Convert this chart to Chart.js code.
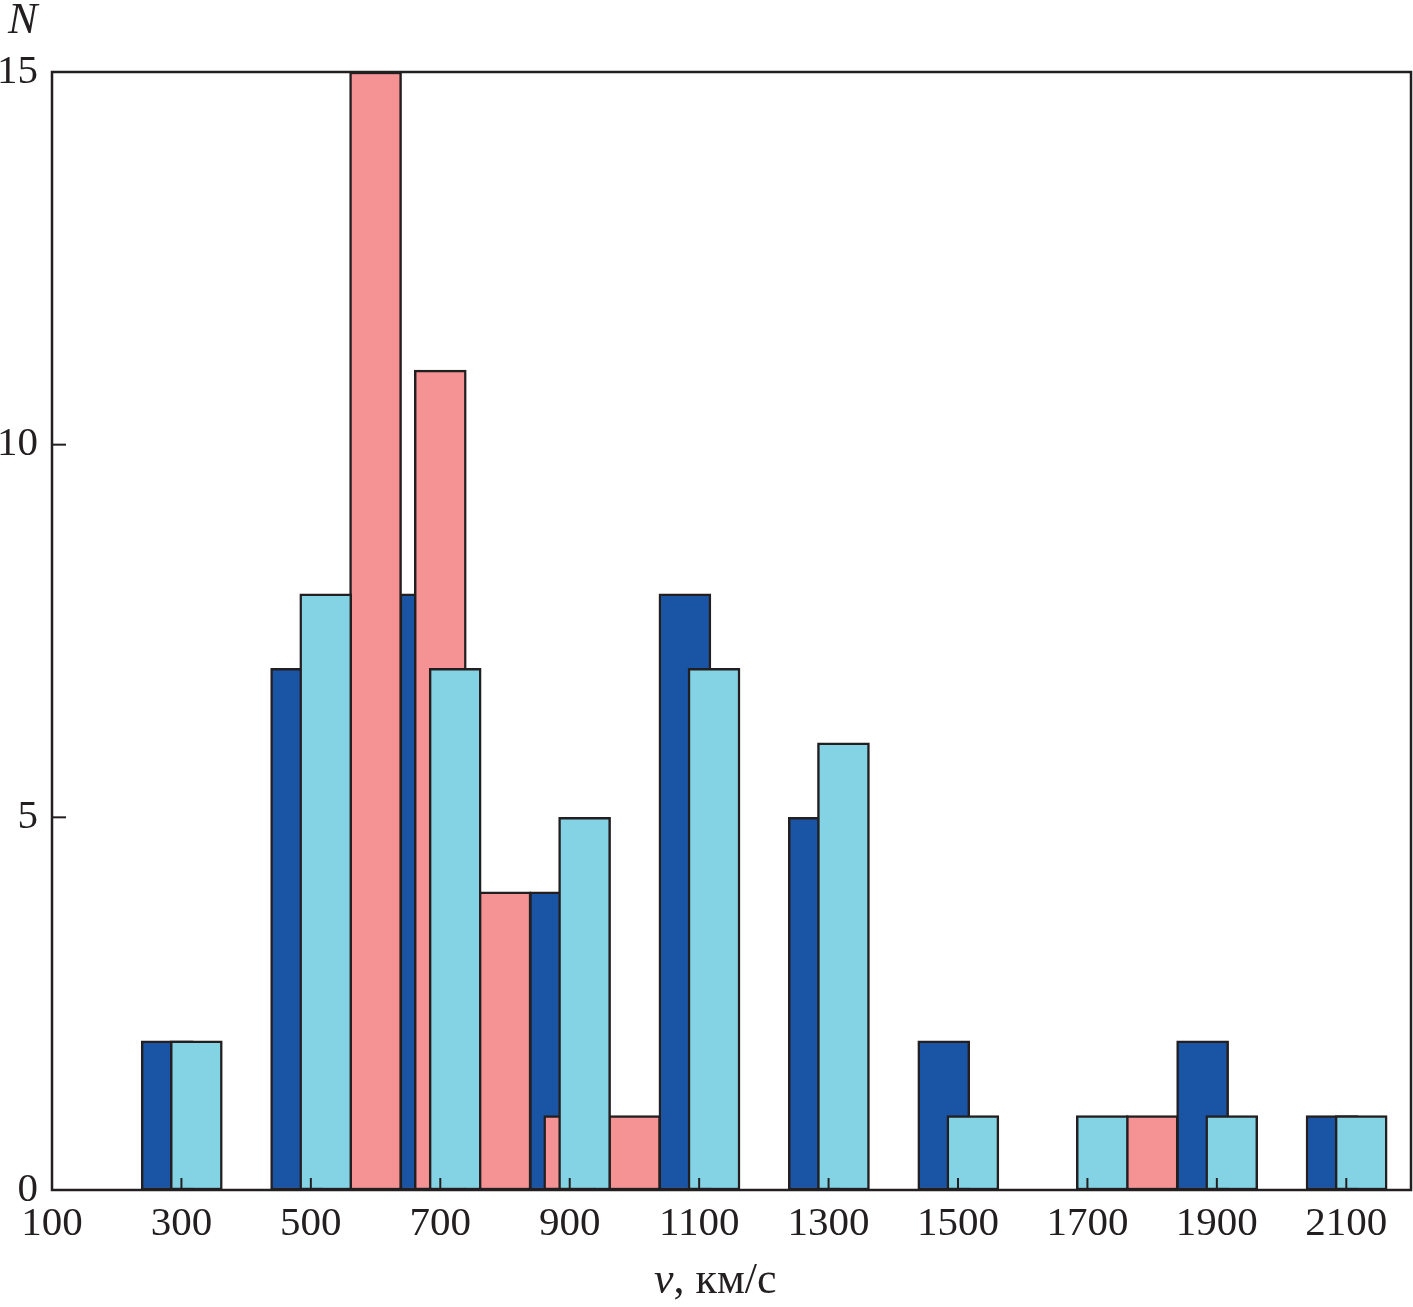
<!DOCTYPE html>
<html>
<head>
<meta charset="utf-8">
<script src="https://cdn.jsdelivr.net/npm/chart.js@4/dist/chart.umd.min.js"></script>
<style>
  html, body { margin: 0; padding: 0; background: #fff; }
  #wrap { width: 1413px; height: 1307px; }
</style>
</head>
<body>
<div id="wrap"><canvas id="hist"></canvas></div>
<script>
// bin centres (km/s) and counts for the three samples
const darkBins = [300, 500, 700, 900, 1100, 1300, 1500, 1900, 2100];
const darkCounts = [2, 7, 8, 4, 8, 5, 2, 2, 1];

const lightBins = [300, 500, 700, 900, 1100, 1300, 1500, 1700, 1900, 2100];
const lightCounts = [2, 8, 7, 5, 7, 6, 1, 1, 1, 1];

const pinkBins = [600, 700, 800, 900, 1000, 1800];
const pinkCounts = [15, 11, 4, 1, 1, 1];

const xTicks = [100, 300, 500, 700, 900, 1100, 1300, 1500, 1700, 1900, 2100];
const yTicks = [0, 5, 10, 15];

const INK = "#231f20";
const FONT = "Liberation Serif";
const DARK_SHIFT = -22;
const LIGHT_SHIFT = 23;

function toPoints(bins, counts, shift) {
  return bins.map((b, i) => ({ x: b + shift, y: counts[i] }));
}

// axes box, inward ticks and the two titles
const frame = {
  id: "frame",
  afterDatasetsDraw(chart) {
    const { ctx, chartArea: a, scales } = chart;
    ctx.save();
    ctx.strokeStyle = INK;
    ctx.lineWidth = 2;
    xTicks.forEach(t => {
      const px = scales.x.getPixelForValue(t);
      ctx.beginPath();
      ctx.moveTo(px, a.bottom);
      ctx.lineTo(px, a.bottom - 12);
      ctx.stroke();
    });
    yTicks.forEach(t => {
      const py = scales.y.getPixelForValue(t);
      ctx.beginPath();
      ctx.moveTo(a.left, py);
      ctx.lineTo(a.left + 14, py);
      ctx.stroke();
    });
    ctx.lineWidth = 2.5;
    ctx.strokeRect(a.left, a.top, a.right - a.left, a.bottom - a.top);

    ctx.fillStyle = INK;
    ctx.textBaseline = "alphabetic";
    ctx.font = "italic 44px '" + FONT + "'";
    ctx.textAlign = "left";
    ctx.fillText("N", 8, 33);

    // x title: italic v + upright units
    const rest = ", км/с";
    ctx.font = "italic 44px '" + FONT + "'";
    const wv = ctx.measureText("v").width;
    const x0 = 654;
    ctx.fillText("v", x0, 1293);
    ctx.font = "44px '" + FONT + "'";
    ctx.fillText(rest, x0 + wv, 1293);
    ctx.restore();
  }
};

const barStyle = {
  barThickness: 52,
  borderWidth: 2.5,
  borderColor: INK,
  borderSkipped: false,
  grouped: false
};

new Chart(document.getElementById("hist"), {
  type: "bar",
  data: {
    datasets: [
      { ...barStyle, data: toPoints(darkBins, darkCounts, DARK_SHIFT), backgroundColor: "#1a55a5", order: 3 },
      { ...barStyle, data: toPoints(pinkBins, pinkCounts, 0), backgroundColor: "#f59294", order: 2 },
      { ...barStyle, data: toPoints(lightBins, lightCounts, LIGHT_SHIFT), backgroundColor: "#83d3e5", order: 1 }
    ]
  },
  options: {
    responsive: true,
    maintainAspectRatio: false,
    animation: false,
    layout: { padding: { top: 72, right: 2, left: 0, bottom: 0 } },
    plugins: { legend: { display: false }, tooltip: { enabled: false } },
    scales: {
      x: {
        type: "linear",
        offset: false,
        min: 100,
        max: 2200,
        afterBuildTicks: s => { s.ticks = xTicks.map(v => ({ value: v })); },
        afterFit: s => { s.height = 117; },
        grid: { display: false, drawTicks: false },
        border: { display: false },
        ticks: {
          color: INK, font: { family: FONT, size: 41 }, padding: 10,
          maxRotation: 0, autoSkip: false, callback: v => String(v)
        }
      },
      y: {
        min: 0,
        max: 15,
        afterBuildTicks: s => { s.ticks = yTicks.map(v => ({ value: v })); },
        afterFit: s => { s.width = 52; },
        grid: { display: false, drawTicks: false },
        border: { display: false },
        ticks: { color: INK, font: { family: FONT, size: 41 }, padding: 14 }
      }
    }
  },
  plugins: [frame]
});
</script>
</body>
</html>
